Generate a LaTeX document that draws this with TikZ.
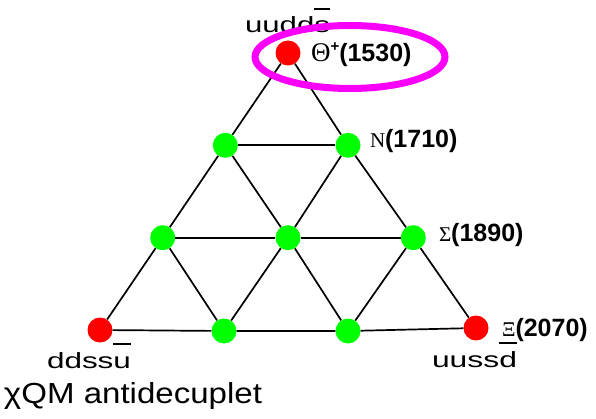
\documentclass[tikz,border=0pt]{standalone}
\usepackage{fontspec}
\usepackage{graphicx}
\setmainfont{Liberation Sans}
\newfontfamily\grkfont{Liberation Serif}
\definecolor{ballred}{RGB}{255,0,0}
\definecolor{ballgreen}{RGB}{0,255,0}
\definecolor{ringmagenta}{RGB}{250,0,250}
% letters with a bar over them (antiquarks)
\newcommand\antiq[1]{\setbox0\hbox{#1}\rlap{\rule[1.06em]{\wd0}{0.08em}}\box0}
% quark content label, stretched to a given width
\newcommand\quarklab[2]{\resizebox{#1}{\height}{\fontsize{22}{26}\selectfont #2}}
\newcommand\masslab[2]{{\fontsize{21}{25}\selectfont\grkfont #1}{\fontsize{25}{30}\selectfont\bfseries #2}}
\begin{document}
\begin{tikzpicture}[x=1pt,y=-1pt,
  ball/.style={circle,inner sep=0pt,minimum size=25pt},
  redball/.style={ball,fill=ballred},
  greenball/.style={ball,fill=ballgreen},
  edge/.style={line width=1.7pt,black},
  lab/.style={anchor=base west,inner sep=0pt,outer sep=0pt}]
\useasboundingbox (0,0) rectangle (596,419);

% multiplet sites
\node[redball]   (t)   at (288,53) {};
\node[greenball] (n1)  at (225.3,145.3) {};
\node[greenball] (n2)  at (348,145.3) {};
\node[greenball] (s1)  at (162.7,237.7) {};
\node[greenball] (s2)  at (288,237.7) {};
\node[greenball] (s3)  at (413.3,237.7) {};
\node[redball]   (x1)  at (100,330) {};
\node[greenball] (x2)  at (224,331) {};
\node[greenball] (x3)  at (348,331) {};
\node[redball]   (x4)  at (476,328) {};

% lattice lines
\draw[edge] (t) -- (n1) (n1) -- (s1) (s1) -- (x1);
\draw[edge] (t) -- (n2) (n2) -- (s3) (s3) -- (x4);
\draw[edge] (n1) -- (n2);
\draw[edge] (s1) -- (s2) (s2) -- (s3);
\draw[edge] (x1) -- (x2) (x2) -- (x3) (x3) -- (x4);
\draw[edge] (n1) -- (s2) (s2) -- (x3);
\draw[edge] (n2) -- (s2) (s2) -- (x2);
\draw[edge] (s1) -- (x2);
\draw[edge] (s3) -- (x3);

% quark content
\node[lab] (qt) at (245,33)  {\quarklab{85pt}{uudd\antiq{s}}};
\node[lab] (ql) at (47,368)  {\quarklab{84pt}{ddss\antiq{u}}};
\node[lab] (qr) at (432,367) {\quarklab{85pt}{uuss\antiq{d}}};

% states and masses
\node[lab] (mt) at (311,62) {{\fontsize{27}{30}\selectfont\grkfont Θ}\raisebox{10pt}{\fontsize{15}{18}\selectfont\bfseries +}{\fontsize{25}{30}\selectfont\bfseries (1530)}};
\node[lab] (mn) at (370,148) {\masslab{N}{(1710)}};
\node[lab] (ms) at (439,242) {\masslab{Σ}{(1890)}};
\node[lab] (mx) at (502,336) {\masslab{Ξ}{(2070)}};

% title
\node[lab] (title) at (4,403) {\resizebox{258pt}{\height}{\fontsize{29}{34}\selectfont χQM antidecuplet}};

% highlight ring
\draw[ringmagenta,line width=7pt] (350,57) ellipse [x radius=95,y radius=31.5];
\end{tikzpicture}
\end{document}
